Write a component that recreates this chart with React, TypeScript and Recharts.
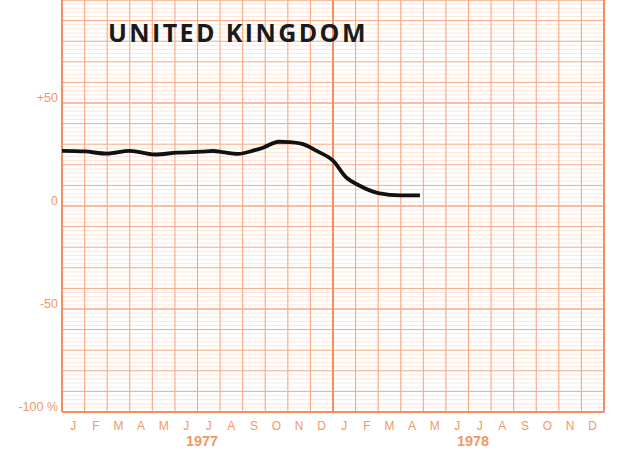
import { Line, LineChart, ReferenceLine, XAxis, YAxis } from "recharts";

// months counted from start of Jan 1977
const monthPos = [0, 1, 2, 3, 4.1, 5.1, 6.2, 6.7, 7.1, 7.8, 8.5, 8.9, 9.6, 10.1, 10.7, 11.3, 12.0, 12.6, 13.1, 14.0, 15.0, 15.85];
const change = [26.8, 26.5, 25.4, 26.8, 25.0, 25.9, 26.4, 26.7, 26.2, 25.3, 27.0, 28.3, 31.2, 31.0, 29.9, 26.6, 22.0, 13.7, 10.3, 6.3, 5.2, 5.2];

const monthLetters = ["J", "F", "M", "A", "M", "J", "J", "A", "S", "O", "N", "D"];
const years = ["1977", "1978"];
const yTicks = [50, 0, -50, -100];

const data = monthPos.map((m, i) => ({ m, v: change[i] }));

const monthTicks = Array.from({ length: 24 }, (_, i) => i + 0.5);
const yearTicks = years.map((_, i) => i * 12 + 6.2);
const monthLines = Array.from({ length: 25 }, (_, i) => i);
const majorLevels = Array.from({ length: 21 }, (_, i) => -100 + i * 10);
const fineLevels = Array.from({ length: 101 }, (_, i) => -100 + i * 2).filter((v) => v % 10 !== 0);

const ORANGE = "#f29766";
const GRID = "#f6a883";
const FINE = "#fcdccb";

function YTick({ x, y, payload }: any) {
    const v = payload.value;
    const label = v === -100 ? "-100 %" : v > 0 ? `+${v}` : `${v}`;
    return (
        <text x={x} y={y - 4} textAnchor="end" dominantBaseline="middle" fill={ORANGE} fontSize={12.5} fontFamily="Liberation Sans">
            {label}
        </text>
    );
}

export default function App() {
    return (
        <div style={{ position: "relative", width: 617, height: 454, background: "#fff" }}>
            <style>{"body{margin:0}"}</style>
            <LineChart width={617} height={454} data={data} margin={{ top: 0, right: 13, left: 0, bottom: 0 }}>
                <XAxis
                    xAxisId="m"
                    dataKey="m"
                    type="number"
                    domain={[0, 24]}
                    allowDataOverflow
                    ticks={monthTicks}
                    tickFormatter={(v) => monthLetters[Math.floor(v) % 12]}
                    axisLine={false}
                    tickLine={false}
                    tickSize={0}
                    tickMargin={9}
                    height={20}
                    interval={0}
                    tick={{ fill: ORANGE, fontSize: 12, fontFamily: "Liberation Sans" }}
                />
                <XAxis
                    xAxisId="yr"
                    dataKey="m"
                    type="number"
                    domain={[0, 24]}
                    allowDataOverflow
                    ticks={yearTicks}
                    tickFormatter={(v) => years[Math.floor(v / 12)]}
                    axisLine={false}
                    tickLine={false}
                    tickSize={0}
                    tickMargin={4}
                    height={22}
                    interval={0}
                    tick={{ fill: ORANGE, fontSize: 14.5, fontWeight: 700, fontFamily: "Liberation Sans" }}
                />
                <YAxis
                    type="number"
                    domain={[-100, 100]}
                    ticks={yTicks}
                    width={62}
                    axisLine={false}
                    tickLine={false}
                    tickSize={0}
                    tickMargin={4}
                    interval={0}
                    tick={<YTick />}
                />
                {fineLevels.map((v) => (
                    <ReferenceLine key={`f${v}`} xAxisId="m" y={v} stroke={FINE} strokeWidth={0.7} />
                ))}
                {majorLevels.map((v) => (
                    <ReferenceLine
                        key={`h${v}`}
                        xAxisId="m"
                        y={v}
                        stroke={GRID}
                        strokeWidth={v % 50 === 0 ? 1.6 : 1}
                    />
                ))}
                {monthLines.map((m) => (
                    <ReferenceLine
                        key={`v${m}`}
                        xAxisId="m"
                        x={m}
                        stroke={m % 12 === 0 ? "#f39062" : GRID}
                        strokeWidth={m % 12 === 0 ? 2 : 1.1}
                    />
                ))}
                <ReferenceLine xAxisId="m" y={-100} stroke="#f39062" strokeWidth={2} />
                <Line
                    xAxisId="m"
                    type="monotone"
                    dataKey="v"
                    stroke="#111"
                    strokeWidth={3.8}
                    dot={false}
                    isAnimationActive={false}
                />
            </LineChart>
            <div
                style={{
                    position: "absolute",
                    left: 108,
                    top: 15,
                    fontFamily: "'Open Sans'",
                    fontWeight: 700,
                    fontSize: 25,
                    letterSpacing: 2.4,
                    color: "#1a1a1a",
                    lineHeight: "34px",
                }}
            >
                UNITED KINGDOM
            </div>
        </div>
    );
}
